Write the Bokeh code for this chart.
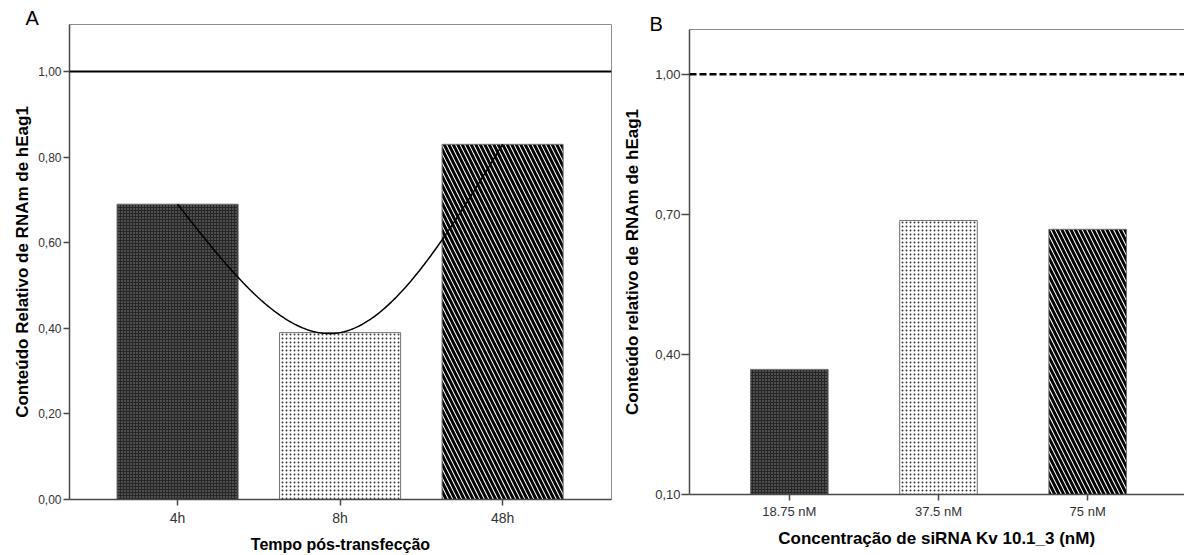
import numpy as np
from bokeh.plotting import figure
from bokeh.layouts import row
from bokeh.models import (Range1d, FixedTicker, Span, LinearAxis, CustomJSTickFormatter)
from bokeh.embed import file_html
from bokeh.resources import INLINE

# ---------------- data ----------------
# Panel A
times = ["4h", "8h", "48h"]
rel_A = [0.69, 0.39, 0.83]
yticks_A = [0.0, 0.2, 0.4, 0.6, 0.8, 1.0]
# Panel B
concs = ["18.75 nM", "37.5 nM", "75 nM"]
rel_B = [0.368, 0.687, 0.668]
yticks_B = [0.1, 0.4, 0.7, 1.0]
reference = 1.0

FONT = "Liberation Sans"
AXC = "#4a4a4a"
FRAMEC = "#8c8c8c"


def natural_spline(xs, ys, n=200):
    xs = np.asarray(xs, float)
    ys = np.asarray(ys, float)
    k = len(xs)
    h = np.diff(xs)
    A = np.zeros((k, k))
    r = np.zeros(k)
    A[0, 0] = A[-1, -1] = 1
    for i in range(1, k - 1):
        A[i, i - 1] = h[i - 1]
        A[i, i] = 2 * (h[i - 1] + h[i])
        A[i, i + 1] = h[i]
        r[i] = 6 * ((ys[i + 1] - ys[i]) / h[i] - (ys[i] - ys[i - 1]) / h[i - 1])
    M = np.linalg.solve(A, r)
    xx = np.linspace(xs[0], xs[-1], n)
    idx = np.clip(np.searchsorted(xs, xx) - 1, 0, k - 2)
    x0 = xs[idx]
    x1 = xs[idx + 1]
    hh = x1 - x0
    t1 = x1 - xx
    t0 = xx - x0
    yy = (M[idx] * t1 ** 3 / (6 * hh) + M[idx + 1] * t0 ** 3 / (6 * hh)
          + (ys[idx] / hh - M[idx] * hh / 6) * t1
          + (ys[idx + 1] / hh - M[idx + 1] * hh / 6) * t0)
    return xx, yy


BAR_STYLES = [
    dict(fill_color="#262626", hatch_pattern="dot", hatch_color="#8a8a8a",
         hatch_scale=3, hatch_weight=1, line_color="#707070"),
    dict(fill_color="white", hatch_pattern="dot", hatch_color="#3a3a3a",
         hatch_scale=4, hatch_weight=1, line_color="#707070"),
    dict(fill_color="white", hatch_pattern="left_diagonal_line", hatch_color="black",
         hatch_scale=9, hatch_weight=3, line_color="#707070"),
]


def make_fig(width, xr, yr, bl, br, bt, bb, cats, yticks, letter, letter_offset, standoff):
    p = figure(width=width, height=555, x_range=xr, y_range=yr,
               output_backend="svg", toolbar_location=None,
               min_border_left=bl, min_border_right=br,
               min_border_top=bt, min_border_bottom=bb)
    p.frame_align = False
    p.title.text = letter
    p.title.align = "left"
    p.title.offset = letter_offset
    p.title.text_font = FONT
    p.title.text_font_size = "20px"
    p.title.text_font_style = "normal"
    p.title.text_color = "black"
    p.title.standoff = standoff
    p.xgrid.visible = False
    p.ygrid.visible = False
    p.background_fill_color = "white"
    p.border_fill_color = "white"
    xpos = list(range(len(cats)))
    p.xaxis.ticker = FixedTicker(ticks=xpos)
    p.xaxis.formatter = CustomJSTickFormatter(args=dict(labels=cats),
                                              code="return labels[Math.round(tick)];")
    p.yaxis.ticker = FixedTicker(ticks=yticks)
    p.yaxis.formatter = CustomJSTickFormatter(code="return tick.toFixed(2).replace('.', ',');")
    for ax in (p.xaxis, p.yaxis):
        ax.axis_line_color = AXC
        ax.axis_line_width = 1.5
        ax.major_tick_line_color = AXC
        ax.major_tick_line_width = 1.5
        ax.major_tick_in = 0
        ax.minor_tick_line_color = None
        ax.major_label_text_font = FONT
        ax.major_label_text_color = "#333333"
        ax.axis_label_text_font = FONT
        ax.axis_label_text_font_style = "bold"
        ax.axis_label_text_color = "black"
    return p


# ---------------- Panel A ----------------
pA = make_fig(620, Range1d(-0.665, 2.67), Range1d(0, 1.11), 69, 9, 24, 56,
              times, yticks_A, "A", -44, -8)
pA.outline_line_color = FRAMEC
pA.outline_line_width = 1
pA.yaxis.axis_label = "Conteúdo Relativo de RNAm de hEag1"
pA.yaxis.axis_label_text_font_size = "17px"
pA.yaxis.axis_label_standoff = 3
pA.yaxis.major_label_text_font_size = "12px"
pA.yaxis.major_tick_out = 6
pA.yaxis.major_label_standoff = 2
pA.xaxis.axis_label = "Tempo pós-transfecção"
pA.xaxis.axis_label_text_font_size = "16px"
pA.xaxis.axis_label_standoff = 7
pA.xaxis.major_label_text_font_size = "14px"
pA.xaxis.major_tick_out = 6
pA.xaxis.major_label_standoff = 4

for i, v in enumerate(rel_A):
    pA.vbar(x=[i], top=[v], bottom=0, width=0.745, line_width=1, **BAR_STYLES[i])

xx, yy = natural_spline(list(range(len(rel_A))), rel_A)
pA.line(xx, yy, line_color="black", line_width=1.5)
pA.add_layout(Span(location=reference, dimension="width", line_color="black", line_width=2))

# ---------------- Panel B ----------------
pB = make_fig(564, Range1d(-0.669, 2.649), Range1d(0.10, 1.096), 68, 0, 29, 61,
              concs, yticks_B, "B", -40, -10)
pB.outline_line_color = None
pB.yaxis.axis_label = "Conteúdo relativo de RNAm de hEag1"
pB.yaxis.axis_label_text_font_size = "17px"
pB.yaxis.axis_label_standoff = 10
pB.yaxis.major_label_text_font_size = "13px"
pB.yaxis.major_tick_out = 8
pB.yaxis.major_label_standoff = 1
pB.xaxis.axis_label = "Concentração de siRNA Kv 10.1_3 (nM)"
pB.xaxis.axis_label_text_font_size = "17px"
pB.xaxis.axis_label_standoff = 7
pB.xaxis.major_label_text_font_size = "13px"
pB.xaxis.major_tick_out = 6
pB.xaxis.major_label_standoff = 3

for i, v in enumerate(rel_B):
    pB.vbar(x=[i], top=[v], bottom=0.10, width=0.52, line_width=1, **BAR_STYLES[i])

pB.add_layout(Span(location=reference, dimension="width", line_color="black",
                   line_width=2.5, line_dash="7 3"))
top_axis = LinearAxis(ticker=FixedTicker(ticks=[]), axis_line_color=FRAMEC,
                      axis_line_width=1, major_tick_line_color=None,
                      minor_tick_line_color=None, major_tick_out=0,
                      major_label_standoff=0, major_label_text_font_size="0px")
pB.add_layout(top_axis, "above")

layout = row(pA, pB)
open("out.html", "w").write(file_html(layout, INLINE))
